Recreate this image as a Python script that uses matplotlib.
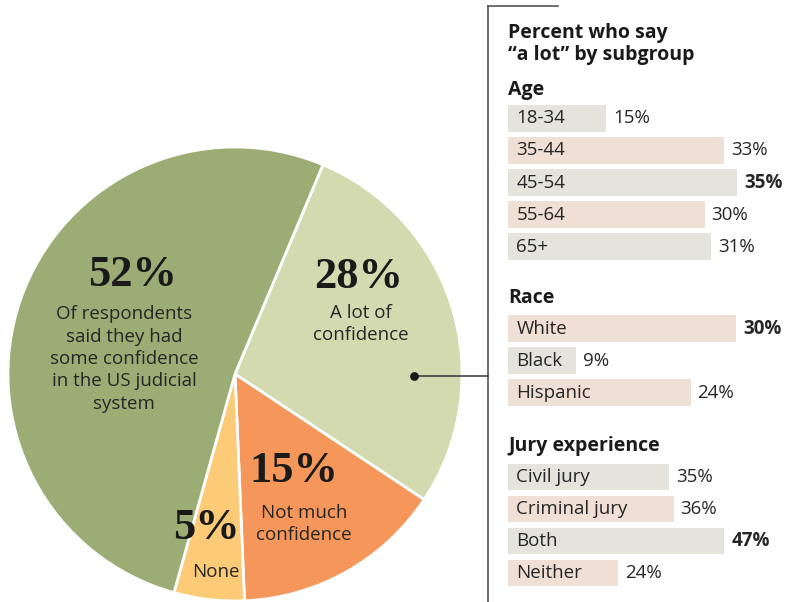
import matplotlib
matplotlib.use("Agg")
import matplotlib.pyplot as plt

# overall confidence in the judicial system
pie_pcts = ["28%", "15%", "5%", "52%"]
pie_captions = ["A lot of\nconfidence", "Not much\nconfidence", "None",
                "Of respondents\nsaid they had\nsome confidence\nin the US judicial\nsystem"]
pie_values = [28, 15, 5, 52]
pie_colors = ["#d3dab0", "#f5975a", "#fdca78", "#9bad75"]

# percent who say "a lot", by subgroup
age_labels = ["18-34", "35-44", "45-54", "55-64", "65+"]
age_values = [15, 33, 35, 30, 31]
race_labels = ["White", "Black", "Hispanic"]
race_values = [30, 9, 24]
jury_labels = ["Civil jury", "Criminal jury", "Both", "Neither"]
jury_values = [35, 36, 47, 24]

W, H = 791, 602
plt.rcParams["font.family"] = ["Open Sans", "DejaVu Sans"]
TXT = "#262626"


def px(x, y, w, h):
    # pixel box (top-left origin) -> figure fraction
    return [x / W, 1 - (y + h) / H, w / W, h / H]


fig = plt.figure(figsize=(W / 100, H / 100), dpi=100)

# ---- pie ----
cx, cy, r = 235, 374, 227
ax = fig.add_axes(px(cx - r, cy - r, 2 * r, 2 * r))
ax.pie(pie_values, colors=pie_colors, startangle=67.2, counterclock=False,
       wedgeprops=dict(edgecolor="white", linewidth=2))
ax.set_xlim(-1, 1)
ax.set_ylim(-1, 1)
ax.axis("off")

# label spots in pixels: (number x, number y, caption x, caption y)
spots = [(359, 277, 361, 324), (294, 471, 304, 524),
         (206, 528, 216, 572), (133, 275, 124, 359)]
for pct, cap, (nx, ny, tx, ty) in zip(pie_pcts, pie_captions, spots):
    ax.text((nx - cx) / r, (cy - ny) / r, pct, ha="center", va="center",
            fontsize=32, fontweight="bold", family="Liberation Serif", color="#1a1a1a")
    ax.text((tx - cx) / r, (cy - ty) / r, cap, ha="center", va="center",
            fontsize=13.5, color=TXT, linespacing=1.32)

# ---- overlay in pixel coordinates for rules and headings ----
ov = fig.add_axes([0, 0, 1, 1])
ov.set_xlim(0, W)
ov.set_ylim(H, 0)
ov.axis("off")
ov.plot([488, 488], [6, H], color="#555555", lw=1.2)
ov.plot([488, 558], [6, 6], color="#555555", lw=1.2)
ov.plot([414, 488], [376, 376], color="#333333", lw=1.1)
ov.scatter([414], [376], s=28, color="#1a1a1a", zorder=5)

ov.text(508, 33, "Percent who say", fontsize=14, fontweight="bold",
        color="#1a1a1a", va="center")
ov.text(508, 55, "\u201ca lot\u201d by subgroup", fontsize=14, fontweight="bold",
        color="#1a1a1a", va="center")
for head, hy in [("Age", 90), ("Race", 298), ("Jury experience", 446)]:
    ov.text(508, hy, head, fontsize=14, fontweight="bold", color="#1a1a1a", va="center")

# ---- subgroup bars ----
bar_colors = ["#e4e4dd", "#efdfd5"]
groups = [(age_labels, age_values, 102.5, 43.2),
          (race_labels, race_values, 312.5, 37.2),
          (jury_labels, jury_values, 461, 61.5)]
k = 0
for labels, values, top, xmax in groups:
    n = len(values)
    bx = fig.add_axes(px(508, top, 283, n * 32))
    cols = [bar_colors[(k + i) % 2] for i in range(n)]
    k += n
    bx.barh(range(n), values, height=0.83, color=cols)
    bx.set_xlim(0, xmax)
    bx.set_ylim(n - 0.5, -0.5)
    bx.axis("off")
    top_val = max(values)
    for i, (lab, v) in enumerate(zip(labels, values)):
        bx.annotate(lab, (0, i), xytext=(6, 0), textcoords="offset points",
                    va="center", ha="left", fontsize=13.5, color=TXT)
        bx.annotate(f"{v}%", (v, i), xytext=(5, 0), textcoords="offset points",
                    va="center", ha="left", fontsize=13.5, color=TXT,
                    fontweight="bold" if v == top_val else "normal",
                    annotation_clip=False)

fig.savefig("out.png", dpi=100, facecolor="white")
